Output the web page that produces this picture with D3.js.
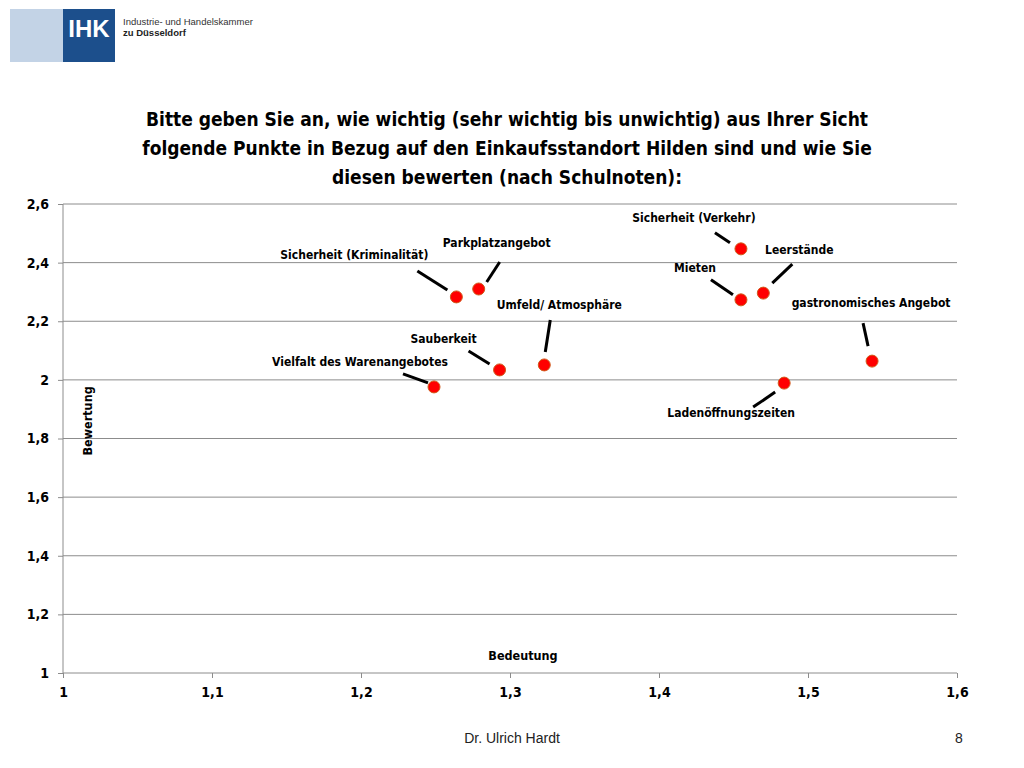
<!DOCTYPE html>
<html>
<head>
<meta charset="utf-8">
<script src="https://cdn.jsdelivr.net/npm/d3@7"></script>
<style>
  body { margin: 0; background: #fff; }
  svg { display: block; }
  .lbl { font-family: 'Liberation Sans Narrow', 'DejaVu Sans Condensed', sans-serif; font-weight: bold; }
</style>
</head>
<body>
<div id="viz"></div>
<script>
// Bedeutung (x) und Bewertung (y) je Standortfaktor
const labels = [
  'Vielfalt des Warenangebotes',
  'Sicherheit (Kriminalität)',
  'Parkplatzangebot',
  'Sauberkeit',
  'Umfeld/ Atmosphäre',
  'Sicherheit (Verkehr)',
  'Leerstände',
  'Mieten',
  'gastronomisches Angebot',
  'Ladenöffnungszeiten'
];
const bedeutung = [1.249, 1.264, 1.279, 1.293, 1.323, 1.455, 1.470, 1.455, 1.543, 1.484];
const bewertung = [1.976, 2.283, 2.310, 2.034, 2.051, 2.447, 2.296, 2.273, 2.064, 1.989];
const xTicks = [1, 1.1, 1.2, 1.3, 1.4, 1.5, 1.6];
const yTicks = [1, 1.2, 1.4, 1.6, 1.8, 2, 2.2, 2.4, 2.6];
const titleLines = [
  'Bitte geben Sie an, wie wichtig (sehr wichtig bis unwichtig) aus Ihrer Sicht',
  'folgende Punkte in Bezug auf den Einkaufsstandort Hilden sind und wie Sie',
  'diesen bewerten (nach Schulnoten):'
];

// label placement relative to each point: [label dx, label dy, line x1, y1, x2, y2]
const callouts = [
  [-74, -25, -31, -13, -6, -4],
  [-102, -42, -39, -26, -9, -7],
  [18, -46, 21, -27, 8, -7],
  [-56, -31, -31, -19, -10, -6],
  [15, -60, 6, -45, 1, -13],
  [-47, -31, -26, -16, -11, -6],
  [36, -43, 29, -29, 9, -10],
  [-46, -32, -30, -20, -8, -5],
  [-1, -58, -9, -38, -4, -15],
  [-53, 30, -9, 9, -31, 24]
];

const W = 1024, H = 768;
const svg = d3.select('#viz').append('svg')
  .attr('width', W).attr('height', H);

// logo
const logo = svg.append('g');
logo.append('rect').attr('x', 10).attr('y', 9).attr('width', 54).attr('height', 53).attr('fill', '#c3d3e6');
logo.append('rect').attr('x', 63).attr('y', 9).attr('width', 52).attr('height', 53).attr('fill', '#1c4f8c');
logo.append('text')
  .attr('x', 89).attr('y', 37)
  .attr('text-anchor', 'middle')
  .attr('fill', '#fff')
  .style('font-family', 'Liberation Sans, sans-serif')
  .style('font-weight', 'bold')
  .style('font-size', '24px')
  .text('IHK');
logo.append('text')
  .attr('x', 123).attr('y', 25)
  .attr('fill', '#333')
  .style('font-family', 'Liberation Sans, sans-serif')
  .style('font-size', '9.5px')
  .text('Industrie- und Handelskammer');
logo.append('text')
  .attr('x', 123).attr('y', 36)
  .attr('fill', '#222')
  .style('font-family', 'Liberation Sans, sans-serif')
  .style('font-weight', 'bold')
  .style('font-size', '9.5px')
  .text('zu Düsseldorf');

// title
svg.append('g').selectAll('text')
  .data(titleLines)
  .join('text')
  .attr('class', 'lbl')
  .attr('x', 507)
  .attr('y', (d, i) => 126 + i * 29)
  .attr('text-anchor', 'middle')
  .style('font-size', '19px')
  .text(d => d);

const x = d3.scaleLinear().domain([1, 1.6]).range([63, 957]);
const y = d3.scaleLinear().domain([1, 2.6]).range([673, 204]);
const fmt = d => String(+d.toFixed(1)).replace('.', ',');

// grid + y axis
const yAxis = svg.append('g')
  .attr('transform', `translate(${x(1)},0)`)
  .call(d3.axisLeft(y).tickValues(yTicks).tickFormat(fmt).tickSize(5).tickPadding(9))
  .call(g => g.select('.domain').remove());
yAxis.selectAll('.tick line').attr('stroke', '#8c8c8c');
yAxis.selectAll('.tick text')
  .attr('class', 'lbl')
  .attr('fill', '#000')
  .style('font-size', '14px');

svg.append('g').selectAll('line')
  .data(yTicks)
  .join('line')
  .attr('x1', x(1)).attr('x2', x(1.6))
  .attr('y1', d => y(d)).attr('y2', d => y(d))
  .attr('stroke', '#8c8c8c');

svg.append('line')
  .attr('x1', x(1)).attr('x2', x(1))
  .attr('y1', y(1)).attr('y2', y(2.6))
  .attr('stroke', '#8c8c8c');

const xAxis = svg.append('g')
  .attr('transform', `translate(0,${y(1)})`)
  .call(d3.axisBottom(x).tickValues(xTicks).tickFormat(fmt).tickSize(5).tickPadding(9))
  .call(g => g.select('.domain').remove());
xAxis.selectAll('.tick line').attr('stroke', '#8c8c8c');
xAxis.selectAll('.tick text')
  .attr('class', 'lbl')
  .attr('fill', '#000')
  .style('font-size', '14px');

// axis titles
svg.append('text')
  .attr('class', 'lbl')
  .attr('transform', `translate(92,${y(1.86)}) rotate(-90)`)
  .attr('text-anchor', 'middle')
  .style('font-size', '12.5px')
  .text('Bewertung');
svg.append('text')
  .attr('class', 'lbl')
  .attr('x', 523).attr('y', 660)
  .attr('text-anchor', 'middle')
  .style('font-size', '12.5px')
  .text('Bedeutung');

// points with callouts
const pts = labels.map((l, i) => ({
  label: l, bx: bedeutung[i], by: bewertung[i], c: callouts[i]
}));

const g = svg.append('g');
g.selectAll('line.lead')
  .data(pts)
  .join('line')
  .attr('class', 'lead')
  .attr('x1', d => x(d.bx) + d.c[2]).attr('y1', d => y(d.by) + d.c[3])
  .attr('x2', d => x(d.bx) + d.c[4]).attr('y2', d => y(d.by) + d.c[5])
  .attr('stroke', '#000')
  .attr('stroke-width', 3);

g.selectAll('circle')
  .data(pts)
  .join('circle')
  .attr('cx', d => x(d.bx))
  .attr('cy', d => y(d.by))
  .attr('r', 6)
  .attr('fill', '#ff0000')
  .attr('stroke', '#d05a1a')
  .attr('stroke-width', 1);

g.selectAll('text')
  .data(pts)
  .join('text')
  .attr('class', 'lbl')
  .attr('x', d => x(d.bx) + d.c[0])
  .attr('y', d => y(d.by) + d.c[1])
  .attr('dy', '0.35em')
  .attr('text-anchor', 'middle')
  .style('font-size', '12px')
  .text(d => d.label);

// footer
svg.append('text')
  .attr('x', 512).attr('y', 743)
  .attr('text-anchor', 'middle')
  .attr('fill', '#222')
  .style('font-family', 'Liberation Sans Narrow, Liberation Sans, sans-serif')
  .style('font-size', '14px')
  .text('Dr. Ulrich Hardt');
svg.append('text')
  .attr('x', 959).attr('y', 743)
  .attr('text-anchor', 'middle')
  .attr('fill', '#222')
  .style('font-family', 'Liberation Sans Narrow, Liberation Sans, sans-serif')
  .style('font-size', '14px')
  .text('8');
</script>
</body>
</html>
